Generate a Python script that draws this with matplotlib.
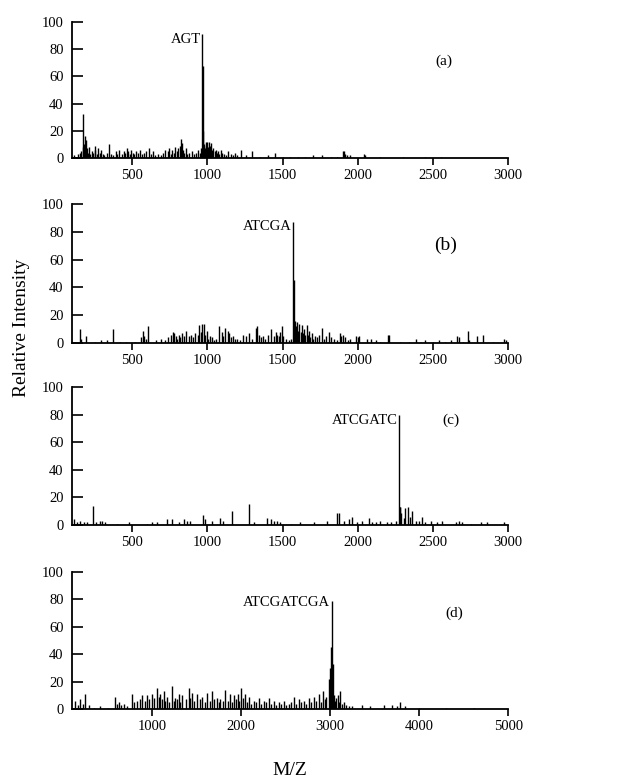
import numpy as np
import matplotlib
matplotlib.use("Agg")
import matplotlib.pyplot as plt

plt.rcParams['font.family'] = ['Liberation Serif', 'DejaVu Serif']

# Peak lists (m/z, relative intensity)
mz_a = [110, 125, 140, 150, 160, 170, 175, 180, 185, 190, 195, 200, 205, 210, 220, 230, 240, 250,
        255, 265, 275, 285, 295, 305, 315, 330, 345, 360, 375, 390, 400, 415, 430, 445, 455, 465,
        475, 485, 495, 505, 515, 525, 540, 555, 565, 580, 595, 610, 625, 640, 655, 670, 690, 705,
        720, 735, 745, 755, 765, 775, 785, 795, 805, 815, 822, 828, 835, 845, 855, 865, 880, 895,
        910, 925, 940, 950, 958, 965, 968, 971, 976, 982, 988, 994, 1000, 1006, 1012, 1018, 1025,
        1032, 1040, 1048, 1056, 1064, 1072, 1080, 1090, 1100, 1110, 1125, 1140, 1155, 1170, 1185,
        1200, 1225, 1260, 1300, 1350, 1400, 1450, 1500, 1550, 1600, 1650, 1700, 1760, 1820, 1860,
        1900, 1910, 1918, 1930, 1945, 2040, 2048, 2150, 2300, 2450, 2550]
int_a = [2, 1, 3, 4, 5, 8, 32, 10, 16, 6, 13, 7, 4, 8, 3, 5, 4, 9,
         6, 3, 7, 4, 6, 3, 2, 4, 10, 3, 2, 5, 3, 6, 3, 5, 4, 7,
         5, 3, 6, 4, 3, 5, 4, 6, 3, 4, 5, 7, 3, 5, 2, 3, 2, 4,
         6, 5, 7, 3, 6, 4, 8, 5, 7, 9, 14, 11, 6, 4, 7, 3, 4, 5,
         3, 4, 6, 4, 7, 91, 68, 20, 10, 7, 12, 9, 12, 8, 12, 9, 11,
         6, 7, 5, 6, 4, 5, 3, 6, 4, 3, 2, 5, 3, 2, 4,
         2, 6, 2, 5, 1, 2, 4, 1, 1, 1, 1, 2, 2, 1, 1,
         5, 5, 3, 2, 2, 3, 2, 1, 1, 1, 1]

mz_b = [150, 160, 195, 250, 290, 330, 375, 420, 460, 520, 560, 570, 580, 590, 607, 660, 690, 720,
        740, 760, 770, 780, 790, 800, 810, 820, 830, 845, 860, 875, 890, 905, 920, 935, 945, 955,
        965, 975, 985, 995, 1005, 1015, 1030, 1045, 1060, 1080, 1095, 1105, 1120, 1135, 1145,
        1155, 1170, 1185, 1200, 1220, 1240, 1260, 1280, 1300, 1320, 1330, 1340, 1355, 1370, 1385,
        1400, 1420, 1440, 1455, 1465, 1475, 1485, 1495, 1505, 1520, 1540, 1555, 1570, 1574, 1578,
        1583, 1590, 1597, 1605, 1612, 1620, 1628, 1636, 1644, 1652, 1660, 1668, 1676, 1685, 1695,
        1705, 1715, 1730, 1745, 1760, 1775, 1790, 1810, 1825, 1845, 1865, 1880, 1890, 1900, 1915,
        1935, 1950, 1990, 2000, 2010, 2060, 2090, 2120, 2150, 2200, 2205, 2280, 2340, 2390, 2420,
        2450, 2500, 2540, 2580, 2620, 2660, 2670, 2700, 2730, 2740, 2790, 2830, 2900, 2970, 2985]
int_b = [10, 3, 5, 1, 2, 2, 10, 1, 1, 1, 4, 9, 5, 3, 12, 2, 3, 2,
         4, 6, 8, 7, 5, 3, 6, 4, 7, 5, 9, 5, 6, 4, 7, 6, 13, 8,
         14, 14, 6, 9, 3, 5, 4, 2, 3, 12, 8, 5, 11, 9, 7,
         4, 5, 3, 3, 2, 6, 5, 7, 3, 11, 12, 6, 4, 5, 3,
         6, 10, 5, 8, 6, 5, 8, 12, 5, 3, 2, 3, 87, 45, 10,
         16, 12, 15, 9, 14, 8, 13, 7, 10, 6, 13, 6, 9, 4, 7,
         3, 5, 4, 6, 11, 3, 5, 8, 4, 3, 2, 7, 5, 6, 4,
         2, 3, 5, 4, 5, 3, 3, 2, 1, 6, 6, 1, 1, 3, 1,
         2, 1, 2, 1, 2, 5, 4, 1, 9, 2, 5, 6, 1, 3, 2]

mz_c = [111, 130, 150, 178, 200, 240, 262, 284, 300, 322, 400, 477, 600, 633, 666, 732, 765, 810,
        843, 865, 887, 971, 987, 1031, 1087, 1105, 1164, 1275, 1308, 1397, 1420, 1442, 1464, 1486,
        1553, 1619, 1708, 1796, 1863, 1874, 1908, 1941, 1962, 1996, 2030, 2073, 2096, 2118, 2151,
        2195, 2218, 2251, 2273, 2280, 2284, 2290, 2306, 2317, 2333, 2350, 2362, 2384, 2406, 2428,
        2450, 2484, 2528, 2561, 2650, 2672, 2695, 2750, 2816, 2860, 2971]
int_c = [4, 2, 3, 2, 2, 14, 2, 3, 3, 2, 1, 2, 1, 2, 2, 4, 4, 2,
         4, 3, 3, 7, 4, 3, 5, 3, 10, 15, 2, 5, 4, 3, 3, 2,
         1, 2, 2, 3, 9, 9, 3, 4, 6, 2, 3, 5, 2, 2, 3,
         2, 2, 3, 80, 13, 13, 9, 5, 12, 13, 6, 10, 3, 3, 6,
         2, 3, 2, 3, 2, 3, 2, 1, 2, 2, 2]

mz_d = [137, 165, 194, 218, 242, 287, 350, 418, 500, 587, 605, 624, 650, 681, 720, 774, 800, 830,
        860, 887, 915, 943, 970, 999, 1025, 1055, 1075, 1093, 1110, 1130, 1150, 1168, 1195, 1224,
        1245, 1261, 1280, 1299, 1318, 1336, 1375, 1411, 1430, 1449, 1475, 1505, 1535, 1561, 1590,
        1617, 1645, 1673, 1700, 1730, 1750, 1767, 1795, 1823, 1850, 1879, 1900, 1917, 1940, 1962,
        1980, 1999, 2020, 2048, 2065, 2085, 2115, 2142, 2170, 2198, 2225, 2254, 2282, 2310, 2340,
        2366, 2395, 2423, 2450, 2479, 2505, 2535, 2565, 2591, 2620, 2647, 2675, 2703, 2730, 2760,
        2790, 2816, 2845, 2872, 2900, 2921, 2940, 2958, 2985, 2996, 3003, 3014, 3022, 3029, 3041,
        3052, 3070, 3086, 3100, 3116, 3135, 3153, 3180, 3209, 3250, 3359, 3453, 3602, 3696, 3750,
        3790, 3846, 3996, 4296, 4614]
int_d = [6, 3, 7, 4, 11, 3, 1, 2, 1, 9, 4, 5, 3, 4, 2, 11, 5, 6,
         7, 10, 6, 10, 7, 11, 8, 15, 9, 11, 7, 13, 6, 9, 5, 17,
         6, 8, 7, 11, 5, 10, 7, 15, 8, 12, 6, 11, 7, 9, 5,
         12, 6, 13, 7, 8, 5, 7, 6, 14, 6, 11, 5, 10, 7, 11,
         6, 15, 8, 11, 5, 9, 4, 6, 5, 8, 4, 6, 5, 8, 4,
         6, 3, 5, 4, 6, 3, 4, 5, 9, 4, 7, 5, 6, 4, 8,
         5, 9, 6, 11, 5, 13, 7, 9, 22, 30, 20, 45, 79, 33, 10,
         6, 8, 10, 5, 13, 4, 5, 3, 2, 2, 3, 2, 3, 3, 2,
         5, 2, 1, 1, 1]

panels = [
    (mz_a, int_a, (100, 3000), [500, 1000, 1500, 2000, 2500, 3000], "AGT", 955, 87, "(a)", 2517, 71, 11),
    (mz_b, int_b, (100, 3000), [500, 1000, 1500, 2000, 2500, 3000], "ATCGA", 1560, 84, "(b)", 2505, 70, 14),
    (mz_c, int_c, (100, 3000), [500, 1000, 1500, 2000, 2500, 3000], "ATCGATC", 2266, 76, "(c)", 2561, 76, 11),
    (mz_d, int_d, (100, 5000), [1000, 2000, 3000, 4000, 5000], "ATCGATCGA", 3000, 78, "(d)", 4296, 70, 11),
]

# axes boxes in figure fractions (left, bottom, width, height)
boxes = [(0.1154, 0.7977, 0.699, 0.1741),
         (0.1154, 0.5608, 0.699, 0.1780),
         (0.1154, 0.3278, 0.699, 0.1767),
         (0.1154, 0.0922, 0.699, 0.1754)]

fig = plt.figure(figsize=(6.24, 7.81), dpi=100)

for (mz, inten, xlim, xt, pep, px, py, tag, tx, ty, tsize), box in zip(panels, boxes):
    ax = fig.add_axes(box)
    ax.vlines(mz, 0, inten, color='black', lw=1.0)
    ax.set_xlim(*xlim)
    ax.set_ylim(0, 100)
    ax.set_xticks(xt)
    ax.set_yticks([0, 20, 40, 60, 80, 100])
    ax.spines['top'].set_visible(False)
    ax.spines['right'].set_visible(False)
    ax.spines['left'].set_linewidth(1.3)
    ax.spines['bottom'].set_linewidth(1.3)
    ax.tick_params(axis='y', direction='in', length=8, width=1.2, labelsize=10.5, pad=6)
    ax.tick_params(axis='x', direction='out', length=5, width=1.2, labelsize=10.5, pad=3)
    ax.text(px, py, pep, ha='right', va='center', fontsize=10.5)
    ax.text(tx, ty, tag, ha='left', va='center', fontsize=tsize)

fig.text(0.035, 0.58, "Relative Intensity", rotation=90, ha='center', va='center', fontsize=14)
fig.text(0.465, 0.014, "M/Z", ha='center', va='center', fontsize=14)

fig.savefig("out.png", dpi=100)
